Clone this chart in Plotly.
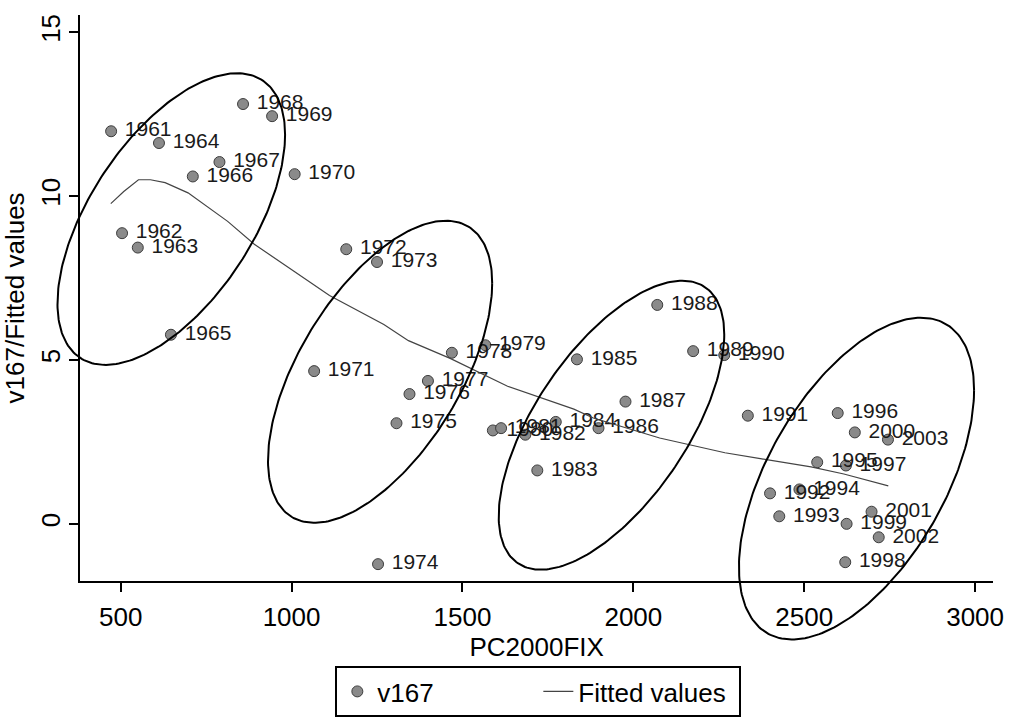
import numpy as np
import plotly.graph_objects as go

# ---- data -------------------------------------------------------------
years = [1961, 1962, 1963, 1964, 1965, 1966, 1967, 1968, 1969, 1970,
         1971, 1972, 1973, 1974, 1975, 1976, 1977, 1978, 1979, 1980,
         1981, 1982, 1983, 1984, 1985, 1986, 1987, 1988, 1989, 1990,
         1991, 1992, 1993, 1994, 1995, 1996, 1997, 1998, 1999, 2000,
         2001, 2002, 2003]
pc2000fix = [472, 504, 550, 612, 647, 711, 789, 858, 943, 1009,
             1066, 1160, 1250, 1253, 1307, 1345, 1399, 1469, 1567, 1589,
             1613, 1684, 1719, 1773, 1835, 1898, 1977, 2070, 2175, 2266,
             2335, 2400, 2427, 2486, 2538, 2598, 2622, 2620, 2624, 2648,
             2697, 2718, 2745]
v167 = [11.98, 8.87, 8.43, 11.62, 5.77, 10.60, 11.04, 12.81, 12.44, 10.67,
        4.66, 8.38, 7.99, -1.23, 3.07, 3.96, 4.36, 5.22, 5.45, 2.85,
        2.92, 2.72, 1.63, 3.11, 5.02, 2.92, 3.73, 6.68, 5.27, 5.15,
        3.30, 0.93, 0.23, 1.05, 1.88, 3.38, 1.78, -1.17, 0.00, 2.79,
        0.37, -0.41, 2.57]

# smoothed (fitted) curve
fit_x = [471, 509, 552, 587, 630, 697, 813, 891, 1007, 1111, 1270,
         1342, 1464, 1632, 1826, 1883, 2077, 2268, 2376, 2520, 2616, 2746]
fit_y = [9.77, 10.14, 10.50, 10.50, 10.41, 10.10, 9.23, 8.53, 7.71, 6.97, 6.08,
         5.59, 5.05, 4.20, 3.50, 3.23, 2.62, 2.17, 1.98, 1.74, 1.52, 1.16]

# period groupings outlined by ellipses: centre, half-extents, correlation
ell_cx = [648, 1259, 1936, 2653]
ell_cy = [9.30, 4.64, 3.01, 1.38]
ell_sx = [333, 328, 330, 344]
ell_sy = [4.45, 4.61, 4.41, 4.91]
ell_rho = [0.578, 0.587, 0.628, 0.550]

x_ticks = [500, 1000, 1500, 2000, 2500, 3000]
y_ticks = [0, 5, 10, 15]

# ---- geometry ---------------------------------------------------------
W, H = 1018, 717
x_range = [381.3, 3052.8]
y_range = [-1.742, 15.53]
x_dom = [81 / W, 1004 / W]
y_dom = [(H - 584) / H, (H - 14) / H]


def full_range(rng, dom):
    """Range of an axis spanning the whole figure with the same scale."""
    s = (rng[1] - rng[0]) / (dom[1] - dom[0])
    return [rng[0] - dom[0] * s, rng[1] + (1 - dom[1]) * s]


FONT = "Liberation Sans, Arial, sans-serif"

fig = go.Figure()

fig.add_trace(go.Scatter(
    x=pc2000fix, y=v167, mode="markers+text", name="v167",
    text=["\u00a0" + str(y) for y in years], textposition="middle right",
    textfont=dict(family=FONT, size=21, color="#1a1a1a"),
    marker=dict(size=11, color="#8a8a8a", line=dict(color="#3c3c3c", width=1)),
    cliponaxis=False, xaxis="x", yaxis="y",
))

fig.add_trace(go.Scatter(
    x=fit_x, y=fit_y, mode="lines", name="Fitted values",
    line=dict(color="#444444", width=1.2), xaxis="x", yaxis="y",
))

# ellipses are drawn on an invisible full-figure axis pair so they are
# not clipped at the plot frame
t = np.linspace(0, 2 * np.pi, 240)
for cx, cy, sx, sy, r in zip(ell_cx, ell_cy, ell_sx, ell_sy, ell_rho):
    ex = cx + sx * np.cos(t)
    ey = cy + sy * (r * np.cos(t) + np.sqrt(1 - r * r) * np.sin(t))
    fig.add_trace(go.Scatter(
        x=ex, y=ey, mode="lines", showlegend=False, hoverinfo="skip",
        line=dict(color="black", width=2), xaxis="x2", yaxis="y2",
    ))

axis_common = dict(
    showline=True, linecolor="black", linewidth=2,
    ticks="outside", ticklen=9, tickwidth=2, tickcolor="black",
    showgrid=False, zeroline=False,
    tickfont=dict(family=FONT, size=26, color="black"),
)

fig.update_layout(
    width=W, height=H, autosize=False,
    margin=dict(l=0, r=0, t=0, b=0),
    paper_bgcolor="white", plot_bgcolor="rgba(0,0,0,0)",
    font=dict(family=FONT, color="black"),
    xaxis=dict(
        domain=x_dom, range=x_range, anchor="y",
        tickvals=x_ticks, ticklabelstandoff=3,
        title=dict(text="PC2000FIX", font=dict(family=FONT, size=26), standoff=0),
        **axis_common,
    ),
    yaxis=dict(
        domain=y_dom, range=y_range, anchor="x",
        tickvals=y_ticks, tickangle=-90, ticklabelstandoff=-1,
        title=dict(text="v167/Fitted values", font=dict(family=FONT, size=26), standoff=4),
        **axis_common,
    ),
    xaxis2=dict(domain=[0, 1], range=full_range(x_range, x_dom), anchor="y2",
                visible=False, fixedrange=True),
    yaxis2=dict(domain=[0, 1], range=full_range(y_range, y_dom), anchor="x2",
                visible=False, fixedrange=True),
    showlegend=True,
    legend=dict(
        orientation="h", x=339 / W, xanchor="left", y=1 - 670 / H, yanchor="top",
        bordercolor="black", borderwidth=2, bgcolor="white",
        font=dict(family=FONT, size=26, color="black"),
        entrywidth=156, entrywidthmode="pixels",
    ),
)

fig.write_html("out.html")
